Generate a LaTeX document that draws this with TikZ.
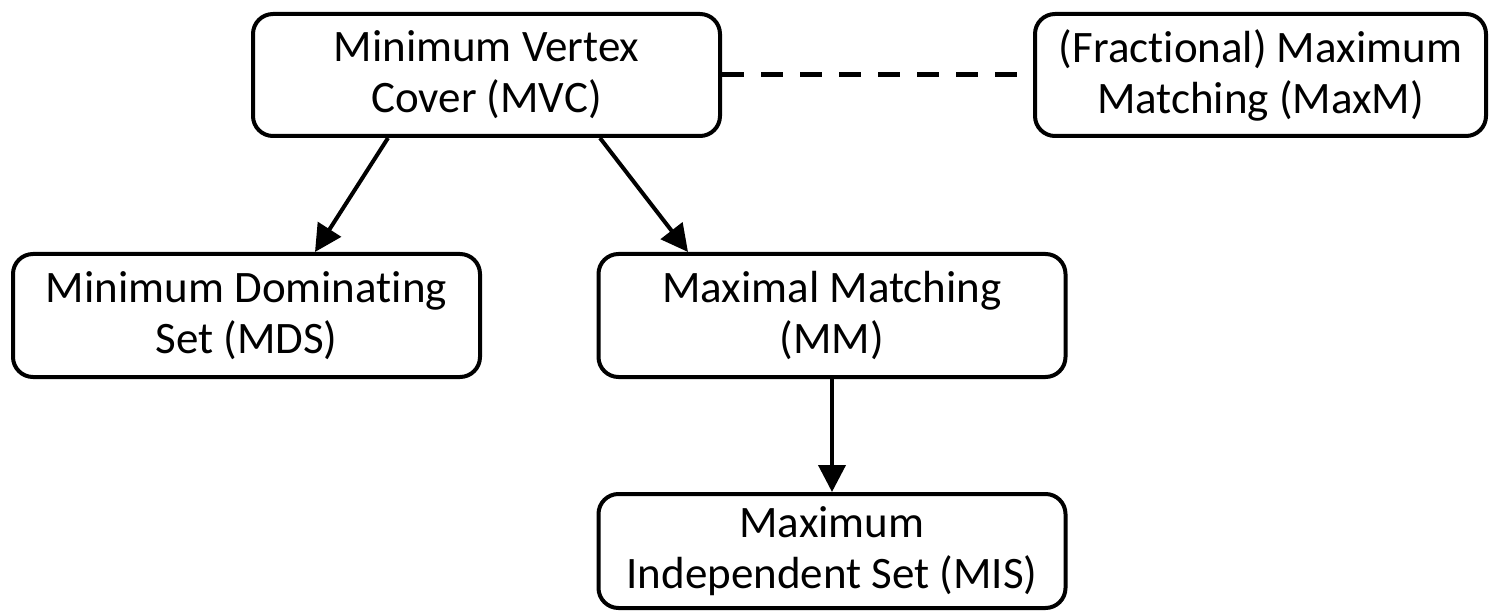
\documentclass[tikz,border=0pt]{standalone}
\usepackage{fontspec}
\setmainfont{Carlito}[RawFeature={-liga;-clig;-calt}]
\usetikzlibrary{arrows.meta,calc}

\tikzset{
  problem/.style={draw=black, line width=4pt, rounded corners=20pt,
    align=center, inner sep=0pt, minimum width=467pt, minimum height=122pt,
    font=\fontsize{45}{51}\selectfont},
  reduce/.style={line width=4pt, -{Triangle[length=27pt,width=27pt]}},
  relate/.style={line width=5pt, dash pattern=on 22pt off 17pt}
}

\begin{document}
\begin{tikzpicture}[x=1pt,y=1pt]
  \useasboundingbox (0,0) rectangle (1491,-612);

  % problems
  \node[problem] (mvc)  at (486.5,-75)   {Minimum Vertex\\Cover (MVC)};
  \node[problem, minimum width=451pt] (maxm) at (1260.5,-75) {(Fractional) Maximum\\Matching (MaxM)};
  \node[problem, minimum height=123pt] (mds)  at (246.5,-315.5) {Minimum Dominating\\Set (MDS)};
  \node[problem, minimum height=123pt] (mm)   at (832,-315.5)   {Maximal Matching\\(MM)};
  \node[problem, minimum height=114pt] (mis)  at (832,-551)     {Maximum\\Independent Set (MIS)};

  % relations between the problems
  \draw[relate] (mvc.east) -- (maxm.west);
  \draw[reduce] ($(mvc.south)+(-98.5,0)$) -- ($(mds.north)+(68.5,0)$);
  \draw[reduce] ($(mvc.south)+(113.5,0)$) -- ($(mm.north)+(-144,0)$);
  \draw[reduce] (mm.south) -- (mis.north);
\end{tikzpicture}
\end{document}
